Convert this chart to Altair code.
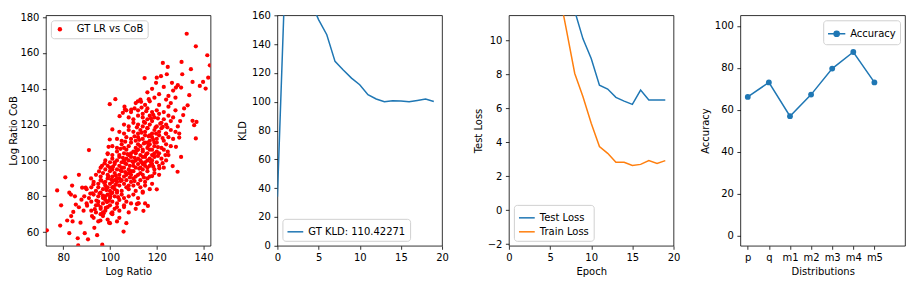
import altair as alt
import pandas as pd

# ---------------- data ----------------
scatter_points = [
    # sparse / outlying points
    (73, 61), (77.4, 83.3), (79.1, 75), (78.7, 63.7), (80.9, 90.6), (81.7, 66.5), (82.6, 82),
    (82.6, 59.4), (83.3, 81), (83.4, 69), (83.8, 86), (84, 66), (84.3, 71.3), (85, 80),
    (85.4, 75.4), (86.2, 56.6), (86.4, 52.6), (86.7, 92), (86.7, 73.9), (87.4, 65.3),
    (87.8, 78.1), (88.1, 84.8), (88.7, 72), (89.2, 59.4), (89.6, 84.8), (90.2, 74.8),
    (90.6, 56), (91, 105.8), (91.6, 81.5), (91.9, 90), (92.3, 69), (92.6, 81.7), (92.9, 86.7),
    (93.3, 62.4), (93.5, 72.8), (94.2, 77.6), (94.5, 58.3), (94.9, 75.2), (95.3, 93.9),
    (95.6, 81.7), (95.9, 66.5), (96.3, 88.7), (96.6, 97), (96.7, 53), (97, 80.4), (97.3, 70.5),
    (97.7, 98.4), (98.2, 73.5), (98.4, 84.6), (98.7, 76.8), (99, 103.6), (99.3, 91),
    (99.6, 65.3), (99.9, 131.4), (100.1, 79.8), (100.6, 70.5), (101, 117.3), (101.3, 96.5),
    (101.6, 85.4), (102.3, 134.2), (104.1, 124.7), (105.5, 126.6), (106.2, 130), (106.4, 128.4),
    (105.8, 60.3), (109.1, 128.4), (110.5, 129), (111.9, 133), (113.3, 132.7), (114.8, 146),
    (116.6, 134.2), (116.2, 74.6), (114.3, 71.9), (111.5, 75.7), (112.3, 76.1), (114, 82.6),
    (120, 83.9), (118, 91.3), (119.7, 143.3), (120, 146.2), (121.8, 147), (122.6, 154.4),
    (124.7, 152.2), (124.3, 148.1), (126.5, 143.3), (128.2, 140.7), (130.4, 140.7),
    (130.6, 155), (130.9, 148.1), (132.8, 170.7), (133.9, 136.4), (134.6, 150.9),
    (135.3, 143.8), (135.3, 122.1), (136, 119.7), (136.7, 163.7), (136.7, 112.3), (137, 121.5),
    (138.4, 141.6), (139.8, 143.8), (140.9, 140.1), (141.6, 158.7), (142, 146.2), (142.7, 153.1),
    (129.6, 115), (131.3, 125.3), (131.7, 129), (133.2, 130.8), (128.9, 93.7), (126.8, 96.9),
    (130.4, 102), (128.2, 107.6), (129.6, 112.8), (124.7, 104.9), (121.1, 95.6), (123.7, 103),
    (123.9, 115), (122.6, 118.8), (119.7, 115), (99.4, 107.6), (99.9, 111.7),
    # dense cloud
    (93, 68), (95, 66), (97, 69), (99, 67), (101, 70), (103, 66), (104, 68), (107, 65), (100, 65), (96, 70),
    (92, 72), (94, 71), (96, 73), (98, 72), (99, 74), (101, 71), (102, 73), (104, 72), (106, 74), (108, 71),
    (111, 73), (97, 71), (103, 74),
    (90, 76), (92, 77), (94, 75), (95, 77), (97, 76), (98, 78), (100, 75), (101, 77), (103, 76), (104, 78),
    (106, 75), (107, 77), (109, 76), (112, 76), (115, 76), (96, 74),
    (89, 80), (91, 79), (93, 81), (95, 80), (96, 82), (97, 79), (99, 81), (100, 79), (102, 80), (103, 82),
    (105, 81), (106, 79), (108, 80), (110, 81), (112, 79), (114, 82), (98, 80), (101, 82),
    (90, 84), (92, 85), (94, 83), (95, 85), (97, 84), (98, 86), (100, 83), (101, 85), (102, 84), (104, 86),
    (105, 83), (107, 85), (108, 84), (110, 86), (111, 83), (113, 85), (115, 86), (117, 84), (99, 85), (103, 83),
    (93, 88), (95, 87), (96, 89), (98, 88), (99, 90), (100, 87), (102, 89), (103, 88), (104, 90), (106, 87),
    (107, 89), (109, 88), (110, 90), (112, 87), (113, 89), (115, 88), (116, 90), (118, 87), (101, 88),
    (105, 89), (108, 86),
    (94, 92), (96, 91), (97, 93), (99, 92), (100, 94), (101, 91), (102, 93), (104, 92), (105, 94), (106, 91),
    (108, 93), (109, 92), (110, 94), (111, 91), (113, 93), (114, 92), (116, 94), (117, 91), (119, 93),
    (121, 92), (103, 90), (107, 92), (112, 92),
    (96, 96), (98, 95), (99, 97), (100, 96), (102, 98), (103, 95), (104, 97), (106, 96), (107, 98), (108, 95),
    (110, 97), (111, 96), (112, 98), (114, 95), (115, 97), (116, 96), (118, 98), (119, 95), (121, 97),
    (123, 96), (105, 96), (109, 94), (113, 96), (117, 97), (101, 95),
    (98, 100), (100, 99), (101, 101), (103, 100), (104, 102), (105, 99), (107, 101), (108, 100), (109, 102),
    (110, 99), (112, 101), (113, 100), (114, 102), (115, 99), (117, 101), (118, 100), (119, 102), (120, 99),
    (122, 101), (124, 100), (106, 100), (111, 100), (116, 100), (102, 99), (114, 98),
    (99, 104), (101, 103), (103, 105), (104, 103), (106, 104), (107, 106), (108, 103), (110, 105), (111, 104),
    (112, 106), (113, 103), (114, 105), (116, 104), (117, 106), (118, 103), (120, 105), (121, 104),
    (123, 106), (125, 103), (115, 102), (109, 104), (119, 104),
    (101, 108), (103, 107), (105, 109), (106, 107), (108, 108), (109, 110), (111, 107), (112, 109),
    (113, 108), (115, 110), (116, 107), (117, 109), (119, 108), (120, 110), (122, 107), (124, 109),
    (126, 108), (114, 106), (118, 106),
    (103, 112), (105, 111), (107, 113), (109, 112), (111, 111), (112, 113), (114, 112), (115, 114),
    (117, 111), (118, 113), (120, 112), (121, 114), (123, 111), (125, 113), (127, 112), (116, 110), (119, 110),
    (104, 116), (106, 115), (108, 117), (110, 116), (112, 115), (113, 117), (115, 116), (116, 118),
    (118, 115), (119, 117), (121, 116), (122, 118), (124, 115), (126, 117), (128, 116), (117, 114),
    (106, 120), (108, 119), (110, 121), (112, 120), (114, 119), (115, 121), (117, 120), (118, 122),
    (120, 119), (122, 121), (124, 120), (126, 122), (129, 119), (116, 118),
    (108, 124), (110, 123), (112, 125), (114, 124), (116, 123), (117, 125), (119, 124), (121, 126),
    (123, 123), (125, 125), (127, 124), (130, 122),
    (107, 128), (109, 127), (112, 128), (114, 126), (116, 129), (118, 127), (120, 128), (123, 127),
    (125, 130), (128, 128),
    (111, 132), (113, 134), (115, 131), (117, 133), (119, 135), (121, 131), (124, 134), (126, 132), (128, 135),
    (116, 138), (118, 140), (121, 137), (123, 141), (125, 136), (127, 139), (129, 142),
    # extra fill of the densest core
    (104.5, 94.5), (106.5, 98.5), (108.5, 97), (110.5, 101.5), (112.5, 95.5), (113.5, 99), (115.5, 103.5),
    (117.5, 99), (111.5, 105.5), (109.5, 99.5), (107.5, 103.5), (105.5, 101.5), (116.5, 108.5),
    (114.5, 109.5), (112.5, 111.5), (118.5, 111.5), (120.5, 107.5), (110.5, 113.5), (113.5, 115.5),
    (116.5, 113.5), (119.5, 118.5), (121.5, 120.5), (117.5, 123.5), (114.5, 121.5), (111.5, 118.5),
    (102.5, 91.5), (100.5, 89.5), (104.5, 88.5), (106.5, 93.5), (108.5, 90.5), (110.5, 88.5),
    (98.5, 83.5), (100.5, 81.5), (102.5, 86.5), (97.5, 87.5), (103.5, 79.5), (99.5, 77.5),
    (114.5, 90.5), (118.5, 96.5), (120.5, 102.5), (122.5, 98.5), (106.5, 110.5), (104.5, 106.5),
    (118.5, 125.5), (115.5, 127.5), (113.5, 129.5), (122.5, 112.5), (124.5, 118.5), (120.5, 123.5),
]

epochs = list(range(20))
kld = [34, 198, 215, 190, 170, 157, 146.5, 128, 122, 116.4, 111.8, 104.9, 101.9, 100,
       100.7, 100.5, 100, 100.9, 101.9, 100.2]
test_loss = [40, 30, 25, 20, 17, 15, 13.5, 12.6, 11.74, 10.1, 8.94, 7.37, 7.14, 6.65,
             6.43, 6.24, 7.08, 6.49, 6.49, 6.49]
train_loss = [35, 28, 22, 18, 16, 14.5, 13.1, 10.6, 8.06, 6.69, 5.12, 3.75, 3.35, 2.82,
              2.82, 2.63, 2.7, 2.92, 2.76, 2.92]

dist_names = ["p", "q", "m1", "m2", "m3", "m4", "m5"]
accuracy = [66.2, 73.1, 57.0, 67.3, 79.7, 87.6, 73.1]

BLUE = "#1f77b4"
ORANGE = "#ff7f0e"
W, H = 165, 231
FONT = "DejaVu Sans"


def legend(orient, symbol, size, **kw):
    return alt.Legend(
        orient=orient, title=None, fillColor="white", strokeColor="#d0d0d0",
        cornerRadius=3, padding=4, offset=5, symbolType=symbol, symbolSize=size,
        labelFontSize=10, labelFont=FONT, labelColor="black", rowPadding=0,
        labelLimit=300, **kw)


# ---------------- panel 1: scatter ----------------
df1 = pd.DataFrame(scatter_points, columns=["lr", "cob"])
df1["series"] = "GT LR vs CoB"
c1 = alt.Chart(df1).mark_circle(size=18, opacity=1, clip=True).encode(
    x=alt.X("lr:Q", scale=alt.Scale(domain=[72.6, 143], nice=False, zero=False),
            axis=alt.Axis(title="Log Ratio", values=[80, 100, 120, 140])),
    y=alt.Y("cob:Q", scale=alt.Scale(domain=[52.4, 181], nice=False, zero=False),
            axis=alt.Axis(title="Log Ratio CoB", values=[60, 80, 100, 120, 140, 160, 180],
                          titlePadding=1)),
    color=alt.Color("series:N", scale=alt.Scale(domain=["GT LR vs CoB"], range=["red"]),
                    legend=legend("top-left", "circle", 20, labelOffset=12,
                                  symbolStrokeWidth=0)),
).properties(width=W, height=H)

# ---------------- panel 2: KLD ----------------
df2 = pd.DataFrame({"epoch": epochs, "kld": kld})
df2["series"] = "GT KLD: 110.42271"
c2 = alt.Chart(df2).mark_line(clip=True, strokeWidth=1.5).encode(
    x=alt.X("epoch:Q", scale=alt.Scale(domain=[0, 20], nice=False),
            axis=alt.Axis(title=None, values=[0, 5, 10, 15, 20])),
    y=alt.Y("kld:Q", scale=alt.Scale(domain=[0, 160], nice=False),
            axis=alt.Axis(title="KLD", values=list(range(0, 161, 20)))),
    color=alt.Color("series:N", scale=alt.Scale(domain=["GT KLD: 110.42271"], range=[BLUE]),
                    legend=legend("bottom-left", "stroke", 250, symbolStrokeWidth=1.5)),
).properties(width=W, height=H)

# ---------------- panel 3: losses ----------------
df3 = pd.concat([
    pd.DataFrame({"epoch": epochs, "loss": test_loss, "series": "Test Loss"}),
    pd.DataFrame({"epoch": epochs, "loss": train_loss, "series": "Train Loss"}),
])
c3 = alt.Chart(df3).mark_line(clip=True, strokeWidth=1.5).encode(
    x=alt.X("epoch:Q", scale=alt.Scale(domain=[0, 20], nice=False),
            axis=alt.Axis(title="Epoch", values=[0, 5, 10, 15, 20])),
    y=alt.Y("loss:Q", scale=alt.Scale(domain=[-2.1, 11.49], nice=False, zero=False),
            axis=alt.Axis(title="Test Loss", values=[-2, 0, 2, 4, 6, 8, 10],
                          labelExpr="replace(datum.label, '-', '\u2212')")),
    color=alt.Color("series:N",
                    scale=alt.Scale(domain=["Test Loss", "Train Loss"], range=[BLUE, ORANGE]),
                    legend=legend("bottom-left", "stroke", 250, symbolStrokeWidth=1.5)),
).properties(width=W, height=H)

# ---------------- panel 4: accuracy ----------------
df4 = pd.DataFrame({"idx": list(range(len(dist_names))), "acc": accuracy})
df4["series"] = "Accuracy"
names_js = "[" + ",".join("'%s'" % n for n in dist_names) + "]"
base4 = alt.Chart(df4).encode(
    x=alt.X("idx:Q", scale=alt.Scale(domain=[-0.35, 7.45], nice=False, zero=False),
            axis=alt.Axis(title="Distributions", values=list(range(len(dist_names))),
                          labelExpr=names_js + "[datum.value]")),
    y=alt.Y("acc:Q", scale=alt.Scale(domain=[-4.75, 105.1], nice=False, zero=False),
            axis=alt.Axis(title="Accuracy", values=list(range(0, 101, 20)))),
    color=alt.Color("series:N", scale=alt.Scale(domain=["Accuracy"], range=[BLUE]),
                    legend=legend("top-right", "M-1,0L1,0M0.3,0A0.3,0.3,0,1,1,-0.3,0A0.3,0.3,0,1,1,0.3,0Z",
                                  300, symbolStrokeWidth=1.5, symbolFillColor=BLUE)),
)
c4 = alt.layer(
    base4.mark_line(strokeWidth=1.5),
    base4.mark_point(filled=True, size=34, opacity=1),
).properties(width=W, height=H)

chart = alt.hconcat(c1, c2, c3, c4, spacing=67, bounds="flush").resolve_scale(
    color="independent"
).properties(
    padding={"left": 0, "top": 1, "right": 5, "bottom": 5}
).configure(font=FONT).configure_view(
    stroke="black", strokeWidth=0.8
).configure_axis(
    grid=False, domain=False, tickColor="black", tickSize=3.5, tickWidth=0.8,
    labelPadding=3.5, labelFontSize=10, labelFont=FONT, labelColor="black",
    titleFontSize=10, titleFont=FONT, titleColor="black", titleFontWeight="normal",
    titlePadding=4, labelFlush=False, labelOverlap=False,
)

chart.save("out.html", embed_options={"renderer": "svg", "actions": False})
